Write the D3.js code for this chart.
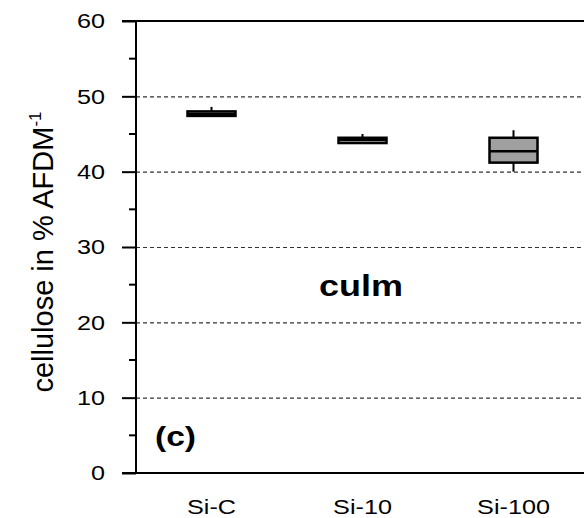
<!DOCTYPE html>
<html>
<head>
<meta charset="utf-8">
<script src="https://cdn.jsdelivr.net/npm/d3@7"></script>
<style>
  body { margin: 0; background: #fff; }
  text { font-family: "Liberation Sans", Arial, sans-serif; fill: #000; }
</style>
</head>
<body>
<svg width="584" height="518"></svg>
<script>
const width = 584, height = 518

// treatments and box values (cellulose, % AFDM)
const groups = ['Si-C', 'Si-10', 'Si-100']
const lowW = [47.4, 43.8, 40.0]
const q1 = [47.4, 43.8, 41.2]
const med = [47.7, 44.2, 42.7]
const q3 = [48.0, 44.5, 44.5]
const highW = [48.6, 45.0, 45.5]
const fills = ['#ffffff', '#d4d4d4', '#a0a0a0']
const yTicks = [0, 10, 20, 30, 40, 50, 60]
const gridTicks = [10, 20, 30, 40, 50]

const mLeft = 136, mTop = 21, mBottom = 473
const sx = 1.2 // the picture's text is a bit stretched sideways

const x = d3.scaleBand()
  .domain(groups)
  .range([mLeft, mLeft + 453])
const y = d3.scaleLinear()
  .domain([0, 60])
  .range([mBottom, mTop])

const svg = d3.select('svg')

// dashed grid
svg.append('g')
  .selectAll('line')
  .data(gridTicks)
  .enter()
  .append('line')
  .attr('x1', mLeft)
  .attr('x2', width)
  .attr('y1', d => y(d) + 0.5)
  .attr('y2', d => y(d) + 0.5)
  .attr('stroke', '#333')
  .attr('stroke-width', 1.2)
  .attr('stroke-dasharray', '4,3')

// y axis
const yAxis = d3.axisLeft(y)
  .tickValues(yTicks)
  .tickSize(14)
const ga = svg.append('g')
  .attr('transform', 'translate(' + mLeft + ',0)')
  .call(yAxis)
ga.select('.domain').remove()
ga.selectAll('line').attr('stroke', '#000').attr('stroke-width', 2)
ga.selectAll('text')
  .attr('x', -31 / sx)
  .attr('transform', 'scale(' + sx + ',1)')
  .attr('font-size', 21)
  .attr('font-family', '"Liberation Sans", Arial, sans-serif')
  .attr('fill', '#000')

// minor ticks
svg.append('g')
  .selectAll('line')
  .data(d3.range(5, 60, 10))
  .enter()
  .append('line')
  .attr('x1', mLeft - 7)
  .attr('x2', mLeft)
  .attr('y1', d => y(d))
  .attr('y2', d => y(d))
  .attr('stroke', '#000')
  .attr('stroke-width', 2)

// frame: left, top, bottom
svg.append('line')
  .attr('x1', mLeft).attr('x2', mLeft)
  .attr('y1', y(60)).attr('y2', y(0))
  .attr('stroke', '#000').attr('stroke-width', 2)
svg.append('line')
  .attr('x1', mLeft - 14).attr('x2', width)
  .attr('y1', y(60)).attr('y2', y(60))
  .attr('stroke', '#000').attr('stroke-width', 2)
svg.append('line')
  .attr('x1', mLeft - 14).attr('x2', width)
  .attr('y1', y(0)).attr('y2', y(0))
  .attr('stroke', '#000').attr('stroke-width', 2)

// x labels
svg.append('g')
  .selectAll('text')
  .data(groups)
  .enter()
  .append('text')
  .attr('transform', d => 'translate(' + (x(d) + x.bandwidth() / 2) + ',514) scale(' + sx + ',1)')
  .attr('text-anchor', 'middle')
  .attr('font-size', 21)
  .text(d => d)

// boxes
const boxW = 48
const bx = svg.append('g')
  .selectAll('g')
  .data(groups)
  .enter()
  .append('g')
  .attr('transform', d => 'translate(' + (x(d) + x.bandwidth() / 2) + ',0)')

bx.append('line')
  .attr('y1', (d, i) => y(highW[i]))
  .attr('y2', (d, i) => y(lowW[i]))
  .attr('stroke', '#000')
  .attr('stroke-width', 2)
bx.append('rect')
  .attr('x', -boxW / 2)
  .attr('width', boxW)
  .attr('y', (d, i) => y(q3[i]))
  .attr('height', (d, i) => y(q1[i]) - y(q3[i]))
  .attr('fill', (d, i) => fills[i])
  .attr('stroke', '#000')
  .attr('stroke-width', 2.5)
bx.append('line')
  .attr('x1', -boxW / 2)
  .attr('x2', boxW / 2)
  .attr('y1', (d, i) => y(med[i]))
  .attr('y2', (d, i) => y(med[i]))
  .attr('stroke', '#000')
  .attr('stroke-width', 2.5)

// y label
const yl = svg.append('text')
  .attr('transform', 'translate(53,252) rotate(-90)')
  .attr('text-anchor', 'middle')
  .attr('font-size', 29)
yl.append('tspan').text('cellulose in % AFDM')
yl.append('tspan')
  .attr('font-size', 17)
  .attr('dy', -12)
  .text('-1')

// panel texts
svg.append('text')
  .attr('transform', 'translate(361,296) scale(' + sx + ',1)')
  .attr('text-anchor', 'middle')
  .attr('font-size', 30)
  .attr('font-weight', 'bold')
  .text('culm')
svg.append('text')
  .attr('transform', 'translate(155,446) scale(' + sx + ',1)')
  .attr('font-size', 28)
  .attr('font-weight', 'bold')
  .text('(c)')
</script>
</body>
</html>
